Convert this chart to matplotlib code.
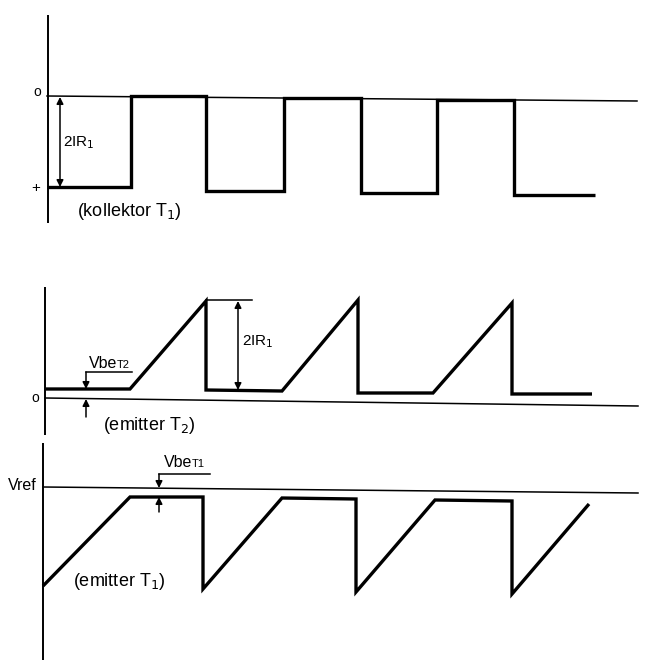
import matplotlib
matplotlib.use("Agg")
import matplotlib.pyplot as plt

plt.rcParams['font.family'] = ['Liberation Sans', 'DejaVu Sans']

# waveform breakpoints (x = time, y = level, in picture units)
kollektor_t = [47, 131, 131, 206, 206, 284, 284, 361, 361, 437, 437, 514, 514, 595]
kollektor_v = [187, 187, 96, 96, 191, 191, 98, 98, 193, 193, 100, 100, 195, 195]

emitter2_t = [46, 130, 206, 206, 282, 358, 358, 433, 512, 512, 592]
emitter2_v = [389, 389, 301, 390, 391, 300, 393, 393, 303, 394, 394]

emitter1_t = [43, 130, 203, 203, 282, 356, 356, 435, 512, 512, 589]
emitter1_v = [586, 497, 497, 589, 498, 499, 592, 500, 501, 594, 504]

# reference lines (0 / 0 / Vref), start and end
ref_t = [[47, 637], [45, 638], [43, 638]]
ref_v = [[96, 101], [398, 406], [487, 493]]

# vertical axes of the three traces
axis_t = [48, 45, 43]
axis_v = [[15, 223], [287, 435], [443, 660]]

fig = plt.figure(figsize=(6.5, 6.68), dpi=100)
ax = fig.add_axes([0, 0, 1, 1])
ax.set_xlim(0, 650)
ax.set_ylim(668, 0)
ax.axis('off')

for x, (y0, y1) in zip(axis_t, axis_v):
    ax.plot([x, x], [y0, y1], color='black', lw=1.4, solid_capstyle='butt')

for xs, ys in zip(ref_t, ref_v):
    ax.plot(xs, ys, color='black', lw=1.1)

wave = dict(color='black', lw=2.4, solid_joinstyle='miter', solid_capstyle='butt')
ax.plot(kollektor_t, kollektor_v, **wave)
ax.plot(emitter2_t, emitter2_v, **wave)
ax.plot(emitter1_t, emitter1_v, **wave)

arr = dict(arrowstyle='<|-|>', color='black', lw=1.1, mutation_scale=10,
           shrinkA=0, shrinkB=0)
one = dict(arrowstyle='-|>', color='black', lw=1.1, mutation_scale=10,
           shrinkA=0, shrinkB=0)

# 2IR1 on the collector
ax.annotate('', xy=(60, 97), xytext=(60, 187), arrowprops=arr)
ax.text(63, 143, '2IR$_1$', fontsize=11, va='center', ha='left')

# 2IR1 on emitter T2
ax.plot([206, 252], [300, 300], color='black', lw=1.1)
ax.annotate('', xy=(238, 301), xytext=(238, 390), arrowprops=arr)
ax.text(242, 342, '2IR$_1$', fontsize=11, va='center', ha='left')

# VbeT2
ax.plot([86, 132], [372, 372], color='black', lw=1.1)
ax.annotate('', xy=(86, 389), xytext=(86, 372), arrowprops=one)
ax.annotate('', xy=(86, 399), xytext=(86, 417), arrowprops=one)
ax.text(89, 368, 'Vbe', fontsize=11.5, va='baseline', ha='left')
ax.text(117, 368, 'T2', fontsize=8, va='baseline', ha='left')

# VbeT1
ax.plot([159, 210], [474, 474], color='black', lw=1.1)
ax.annotate('', xy=(159, 488), xytext=(159, 474), arrowprops=one)
ax.annotate('', xy=(159, 497), xytext=(159, 512), arrowprops=one)
ax.text(164, 467, 'Vbe', fontsize=11.5, va='baseline', ha='left')
ax.text(192, 467, 'T1', fontsize=8, va='baseline', ha='left')

# level labels
ax.text(37, 92, 'o', fontsize=10, ha='center', va='center')
ax.text(36, 188, '+', fontsize=11, ha='center', va='center')
ax.text(35, 398, 'o', fontsize=10, ha='center', va='center')
ax.text(37, 486, 'Vref', fontsize=11.5, ha='right', va='center')

# trace names
ax.text(77, 212, '(kollektor T$_1$)', fontsize=13, va='center', ha='left')
ax.text(103, 425, '(emitter T$_2$)', fontsize=13, va='center', ha='left')
ax.text(73, 582, '(emitter T$_1$)', fontsize=13, va='center', ha='left')

fig.savefig('out.png', dpi=100, facecolor='white')
